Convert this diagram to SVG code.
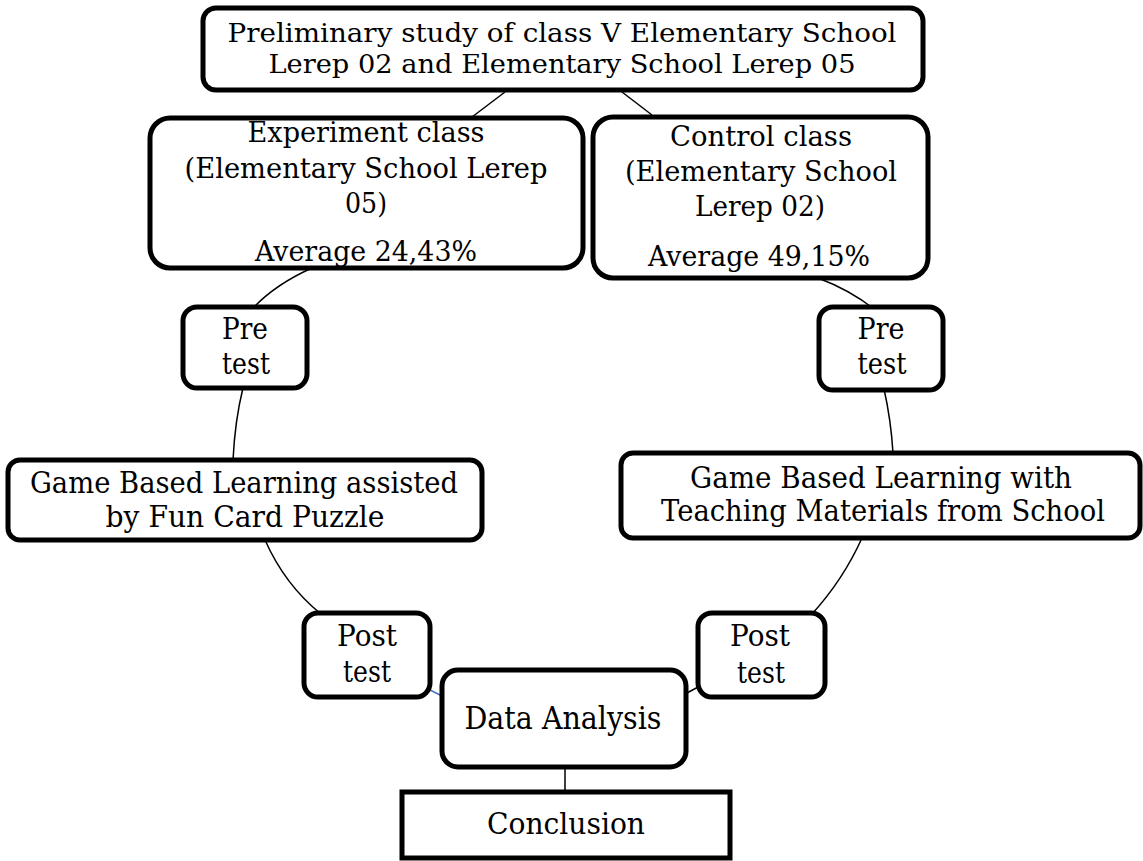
<svg xmlns="http://www.w3.org/2000/svg" width="1143" height="861" viewBox="0 0 1143 861">
<style>
.box{fill:#fff;stroke:#000;stroke-width:5}
.t{font-family:"DejaVu Serif","Liberation Serif",serif;fill:#000;text-anchor:middle}
.c{fill:none;stroke:#000;stroke-width:1.5}
</style>
<rect width="1143" height="861" fill="#fff"/>
<g id="connectors">
<path class="c" d="M505,92 L472,117"/>
<path class="c" d="M622,92 L652,115"/>
<path class="c" d="M312,268 Q276,284 253,308"/>
<path class="c" d="M818,278 Q850,290 874,309"/>
<path class="c" d="M243,388 Q235,420 233,460"/>
<path class="c" d="M884,389 Q891,420 893,453"/>
<path class="c" d="M265,540 Q285,585 321,614"/>
<path class="c" d="M862,538 Q843,580 812,614"/>
<path d="M428,689 L444,697" fill="none" stroke="#4472C4" stroke-width="1.5"/>
<path class="c" d="M700,686 L685,694"/>
<path class="c" d="M565,767 L565,792"/>
</g>
<g id="node-preliminary">
<rect class="box" x="203" y="8" width="720" height="82" rx="13"/>
<text class="t" x="562" y="42" font-size="26" textLength="669" lengthAdjust="spacingAndGlyphs">Preliminary study of class V Elementary School</text>
<text class="t" x="562" y="73" font-size="26" textLength="587" lengthAdjust="spacingAndGlyphs">Lerep 02 and Elementary School Lerep 05</text>
</g>
<g id="node-experiment">
<rect class="box" x="150" y="118" width="433" height="150" rx="20"/>
<text class="t" x="366" y="142" font-size="27" textLength="237" lengthAdjust="spacingAndGlyphs">Experiment class</text>
<text class="t" x="366" y="178" font-size="27" textLength="363" lengthAdjust="spacingAndGlyphs">(Elementary School Lerep</text>
<text class="t" x="366" y="213" font-size="27" textLength="42" lengthAdjust="spacingAndGlyphs">05)</text>
<text class="t" x="366" y="261" font-size="27" textLength="222" lengthAdjust="spacingAndGlyphs">Average 24,43%</text>
</g>
<g id="node-control">
<rect class="box" x="593" y="117" width="335" height="161" rx="20"/>
<text class="t" x="761" y="146" font-size="27" textLength="182" lengthAdjust="spacingAndGlyphs">Control class</text>
<text class="t" x="761" y="181" font-size="27" textLength="272" lengthAdjust="spacingAndGlyphs">(Elementary School</text>
<text class="t" x="760" y="216" font-size="27" textLength="130" lengthAdjust="spacingAndGlyphs">Lerep 02)</text>
<text class="t" x="759" y="266" font-size="27" textLength="222" lengthAdjust="spacingAndGlyphs">Average 49,15%</text>
</g>
<g id="node-pretest-left">
<rect class="box" x="183" y="307" width="124" height="81" rx="14"/>
<text class="t" x="245" y="339" font-size="29" textLength="46" lengthAdjust="spacingAndGlyphs">Pre</text>
<text class="t" x="246" y="374" font-size="29" textLength="48" lengthAdjust="spacingAndGlyphs">test</text>
</g>
<g id="node-pretest-right">
<rect class="box" x="819" y="307" width="124" height="83" rx="14"/>
<text class="t" x="881" y="339" font-size="29" textLength="47" lengthAdjust="spacingAndGlyphs">Pre</text>
<text class="t" x="882" y="374" font-size="29" textLength="49" lengthAdjust="spacingAndGlyphs">test</text>
</g>
<g id="node-gbl-left">
<rect class="box" x="8" y="460" width="474" height="80" rx="12"/>
<text class="t" x="244" y="493" font-size="30" textLength="428" lengthAdjust="spacingAndGlyphs">Game Based Learning assisted</text>
<text class="t" x="245" y="527" font-size="30" textLength="279" lengthAdjust="spacingAndGlyphs">by Fun Card Puzzle</text>
</g>
<g id="node-gbl-right">
<rect class="box" x="621" y="453" width="519" height="85" rx="12"/>
<text class="t" x="881" y="488" font-size="30" textLength="382" lengthAdjust="spacingAndGlyphs">Game Based Learning with</text>
<text class="t" x="883" y="521" font-size="30" textLength="444" lengthAdjust="spacingAndGlyphs">Teaching Materials from School</text>
</g>
<g id="node-posttest-left">
<rect class="box" x="304" y="613" width="126" height="84" rx="14"/>
<text class="t" x="367" y="646" font-size="29" textLength="60" lengthAdjust="spacingAndGlyphs">Post</text>
<text class="t" x="367" y="682" font-size="29" textLength="48" lengthAdjust="spacingAndGlyphs">test</text>
</g>
<g id="node-posttest-right">
<rect class="box" x="698" y="613" width="127" height="84" rx="14"/>
<text class="t" x="760" y="646" font-size="29" textLength="60" lengthAdjust="spacingAndGlyphs">Post</text>
<text class="t" x="761" y="683" font-size="29" textLength="48" lengthAdjust="spacingAndGlyphs">test</text>
</g>
<g id="node-data-analysis">
<rect class="box" x="442" y="670" width="244" height="97" rx="16"/>
<text class="t" x="563" y="729" font-size="31" textLength="197" lengthAdjust="spacingAndGlyphs">Data Analysis</text>
</g>
<g id="node-conclusion">
<rect class="box" x="402" y="792" width="328" height="66"/>
<text class="t" x="566" y="834" font-size="30" textLength="158" lengthAdjust="spacingAndGlyphs">Conclusion</text>
</g>
</svg>
